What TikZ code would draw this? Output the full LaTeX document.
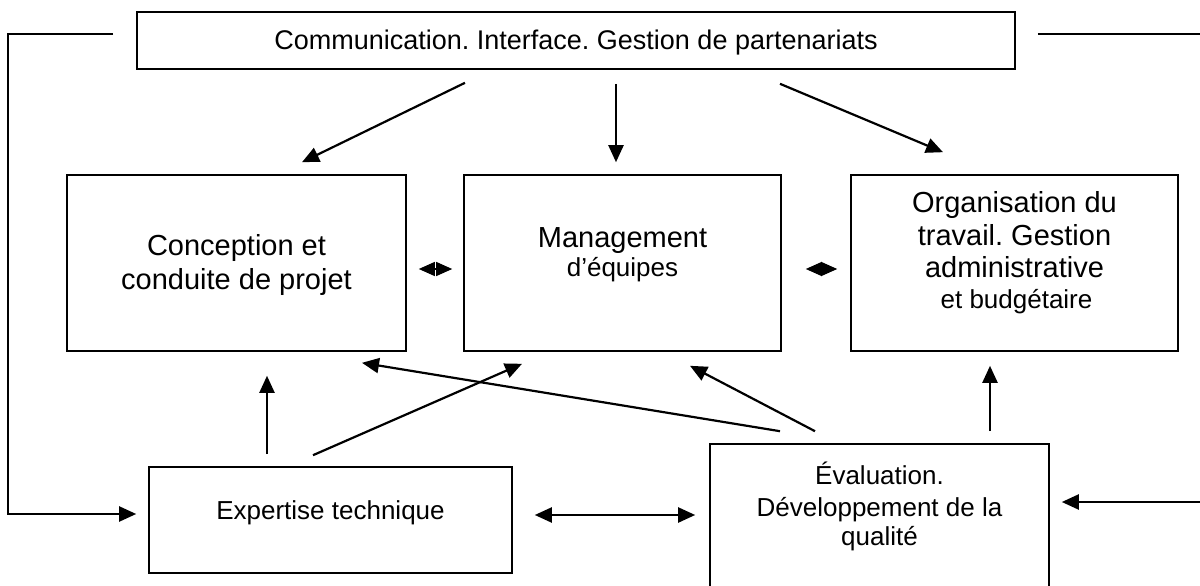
\documentclass[tikz,border=0pt]{standalone}
\usepackage{fontspec}
\setmainfont{Liberation Sans}
\usetikzlibrary{arrows.meta,calc}
\frenchspacing
\begin{document}
\begin{tikzpicture}[x=1pt,y=-1pt,
  box/.style={draw, line width=1.6pt, inner sep=0pt, rectangle},
  sm/.style={anchor=base, inner sep=0pt, font=\fontsize{26}{30}\selectfont},
  lg/.style={anchor=base, inner sep=0pt, font=\fontsize{29}{33}\selectfont},
  conn/.style={line width=2.2pt, -{Triangle[length=17pt,width=15pt]}},
  dbl/.style={line width=2.2pt, {Triangle[length=17pt,width=15pt]}-{Triangle[length=17pt,width=15pt]}},
  tiny/.style={line width=1.2pt, {Triangle[length=16pt,width=14pt]}-{Triangle[length=16pt,width=14pt]}}]
\useasboundingbox (0,0) rectangle (1200,586);

% boxes
\node[box, minimum width=878pt, minimum height=57pt]  (top)  at (576,40.5) {};
\node[box, minimum width=339pt, minimum height=176pt] (conc) at (236.5,263) {};
\node[box, minimum width=317pt, minimum height=176pt] (mgmt) at (622.5,263) {};
\node[box, minimum width=327pt, minimum height=176pt] (org)  at (1014.5,263) {};
\node[box, minimum width=363pt, minimum height=106pt] (exp)  at (330.5,520) {};
\node[box, minimum width=339pt, minimum height=146pt] (eval) at (879.5,517) {};

% texts
\node[sm, font=\fontsize{27}{31}\selectfont] (tTop) at (576,49.5) {Communication. Interface. Gestion de partenariats};
\node[lg] (tConc1) at (236.5,255)  {Conception et};
\node[lg] (tConc2) at (236.5,289)  {conduite de projet};
\node[lg] (tMg1)  at (622.5,247.5) {Management};
\node[sm] (tMg2)  at (622.5,276)   {d’équipes};
\node[lg] (tOr1)  at (1014.5,212.5) {Organisation du};
\node[lg] (tOr2)  at (1014.5,245.5) {travail. Gestion};
\node[lg] (tOr3)  at (1014.5,277.5) {administrative};
\node[sm] (tOr4)  at (1016.5,308)  {et budgétaire};
\node[sm] (tExp)  at (330.5,519)   {Expertise technique};
\node[sm] (tEv1)  at (879.5,484)   {Évaluation.};
\node[sm] (tEv2)  at (879.5,516)   {Développement de la};
\node[sm] (tEv3)  at (879.5,545)   {qualité};

% top arrows
\draw[conn] ($(top.south)+(-111,13)$) -- ($(conc.north)+(65.5,-12)$);
\draw[conn] ($(top.south)+(40,14)$) -- ($(mgmt.north)+(-6.5,-12)$);
\draw[conn] ($(top.south)+(204,14)$) -- ($(org.north)+(-71.5,-22)$);

% small double arrows
\draw[tiny] ($(conc.east)+(12,6)$) -- ($(mgmt.west)+(-11,6)$);
\draw[tiny] ($(mgmt.east)+(24,6)$) -- ($(org.west)+(-13,6)$);

% bottom arrows
\draw[conn] ($(exp.north)+(-63.5,-12)$) -- ($(conc.south)+(30.5,24)$);
\draw[conn] ($(exp.north)+(-17.5,-11)$) -- ($(mgmt.south)+(-100.5,12)$);
\draw[conn] ($(eval.north)+(-99.5,-12)$) -- ($(conc.south)+(125.5,11)$);
\draw[conn] ($(eval.north)+(-64.5,-12)$) -- ($(mgmt.south)+(67.5,14)$);
\draw[conn] ($(eval.north)+(110.5,-12)$) -- ($(org.south)+(-24.5,14)$);
\draw[dbl] ($(exp.east)+(22,-5)$) -- ($(eval.west)+(-14,-2)$);

% feedback loops
\coordinate (lcorner) at (8,514);
\coordinate (rcorner) at (1202,502);
\draw[conn] ($(top.west)+(-23,-6.5)$) -| (lcorner) -- ($(exp.west)+(-12,-6)$);
\draw[conn] ($(top.east)+(22,-6.5)$) -| (rcorner) -- ($(eval.east)+(12,-15)$);
\end{tikzpicture}
\end{document}
